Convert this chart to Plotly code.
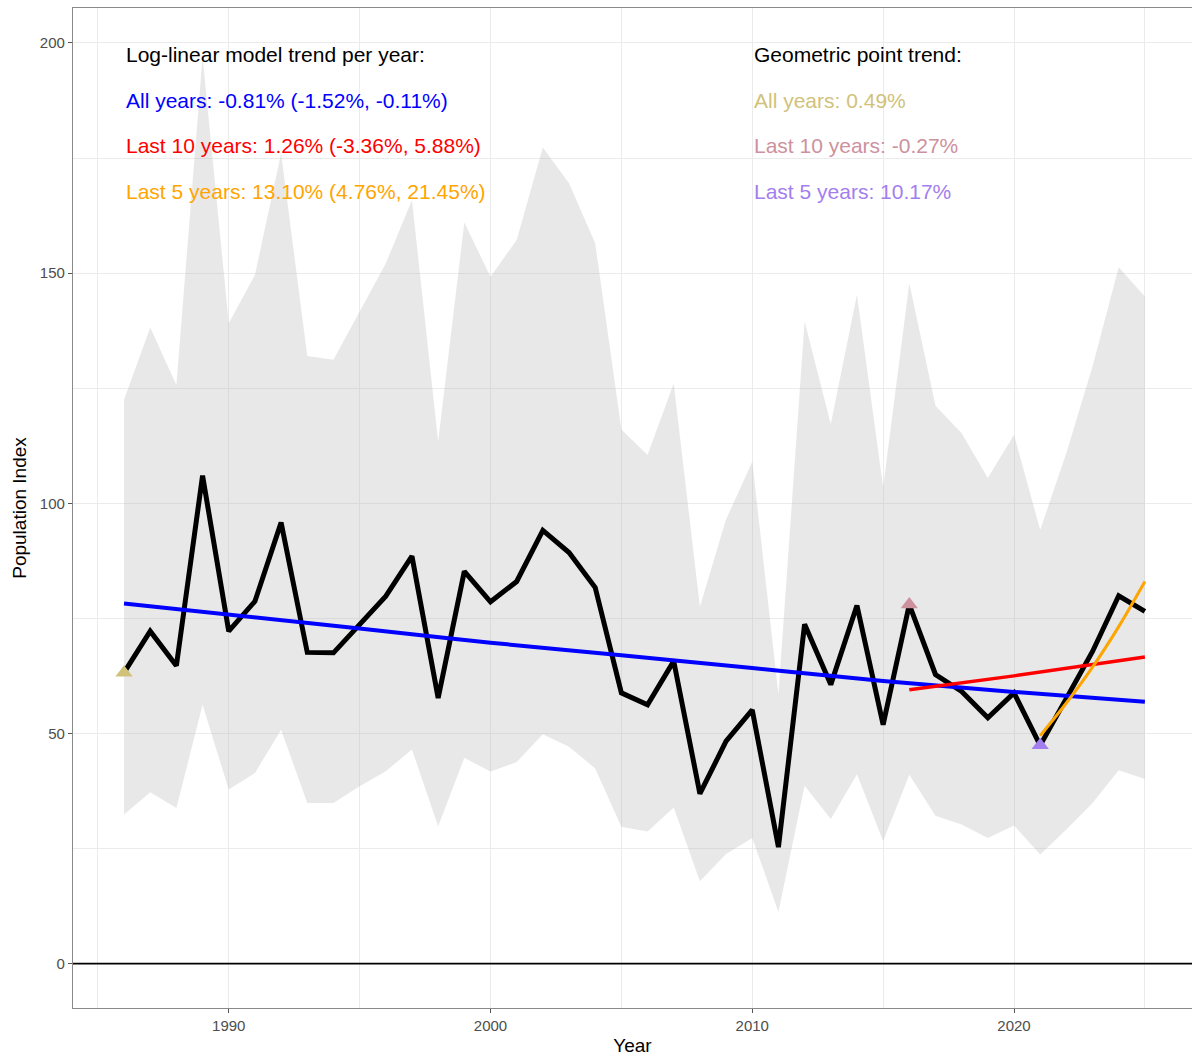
import plotly.graph_objects as go

years = list(range(1986, 2026))
index_vals = [63.2, 72.2, 64.7, 106.0, 72.2, 78.7, 95.8, 67.6, 67.5, 73.6,
              79.8, 88.5, 57.7, 85.2, 78.6, 83.0, 94.1, 89.3, 81.7, 58.8,
              56.2, 65.7, 36.9, 48.3, 55.1, 25.3, 73.7, 60.6, 77.8, 51.9,
              78.0, 62.8, 59.1, 53.4, 58.8, 47.4, 57.5, 67.8, 79.9, 76.5]
upper_vals = [122.5, 138.2, 125.7, 197.0, 139.1, 149.6, 176.0, 132.0, 131.2, 141.6,
              152.1, 165.9, 113.4, 161.0, 149.2, 157.2, 177.3, 169.5, 156.5, 116.0,
              110.5, 126.0, 77.5, 96.5, 109.0, 58.5, 139.5, 117.2, 145.3, 103.5,
              147.8, 121.2, 115.2, 105.5, 114.9, 94.2, 110.9, 129.7, 151.3, 144.9]
lower_vals = [32.4, 37.2, 33.8, 56.2, 37.8, 41.4, 50.8, 34.9, 34.9, 38.5,
              41.8, 46.5, 29.8, 44.7, 41.7, 43.8, 49.8, 47.1, 42.4, 29.7,
              28.7, 33.9, 17.9, 23.8, 27.3, 11.2, 38.6, 31.4, 41.1, 26.6,
              41.0, 32.1, 30.2, 27.3, 30.0, 23.7, 29.1, 34.9, 42.0, 40.1]

# Trend lines
trend_all_years = [1986, 1995, 2000, 2005, 2010, 2015, 2020, 2025]
trend_all_vals = [78.2, 72.8, 69.7, 67.0, 64.2, 61.4, 59.0, 56.9]
trend_10_years = [2016, 2020, 2025]
trend_10_vals = [59.5, 62.5, 66.6]
trend_5_years = [2021, 2022, 2023, 2024, 2025]
trend_5_vals = [49.5, 56.6, 64.4, 73.2, 83.0]

# Geometric point markers
geo_years = [1986, 2016, 2021]
geo_vals = [63.2, 78.0, 47.4]
geo_colors = ["#D1C27A", "#CD919E", "#A27EEE"]

left_texts = ["Log-linear model trend per year:",
              "All years: -0.81% (-1.52%, -0.11%)",
              "Last 10 years: 1.26% (-3.36%, 5.88%)",
              "Last 5 years: 13.10% (4.76%, 21.45%)"]
left_colors = ["black", "#0000FF", "#FF0000", "#FFA500"]
right_texts = ["Geometric point trend:",
               "All years: 0.49%",
               "Last 10 years: -0.27%",
               "Last 5 years: 10.17%"]
right_colors = ["black"] + geo_colors

x_ticks = [1990, 2000, 2010, 2020]
y_ticks = [0, 50, 100, 150, 200]

FONT = "Liberation Sans, Arial, Helvetica, sans-serif"

fig = go.Figure()
fig.add_trace(go.Scatter(x=years, y=lower_vals, mode="lines",
                         line=dict(width=0), showlegend=False, hoverinfo="skip"))
fig.add_trace(go.Scatter(x=years, y=upper_vals, mode="lines", fill="tonexty",
                         fillcolor="rgba(179,179,179,0.3)",
                         line=dict(width=0), showlegend=False, hoverinfo="skip"))
fig.add_trace(go.Scatter(x=years, y=index_vals, mode="lines",
                         line=dict(color="black", width=5), showlegend=False))
fig.add_trace(go.Scatter(x=trend_all_years, y=trend_all_vals, mode="lines",
                         line=dict(color="#0000FF", width=4, shape="spline"), showlegend=False))
fig.add_trace(go.Scatter(x=trend_10_years, y=trend_10_vals, mode="lines",
                         line=dict(color="#FF0000", width=3.5, shape="spline"), showlegend=False))
fig.add_trace(go.Scatter(x=trend_5_years, y=trend_5_vals, mode="lines",
                         line=dict(color="#FFA500", width=3, shape="spline"), showlegend=False))
fig.add_trace(go.Scatter(x=geo_years, y=geo_vals, mode="markers",
                         marker=dict(symbol="triangle-up", size=15, color=geo_colors),
                         showlegend=False))

fig.add_hline(y=0, line=dict(color="black", width=1.8))

text_y = [197.5, 187.6, 177.7, 167.8]
for t, c, y in zip(left_texts, left_colors, text_y):
    fig.add_annotation(x=1986, y=y, text=t, showarrow=False, xanchor="left",
                       yanchor="middle", font=dict(family=FONT, size=21, color=c))
for t, c, y in zip(right_texts, right_colors, text_y):
    fig.add_annotation(x=2010, y=y, text=t, showarrow=False, xanchor="left",
                       yanchor="middle", font=dict(family=FONT, size=21, color=c))

fig.update_layout(
    width=1192, height=1059,
    margin=dict(l=73, r=0, t=8, b=51),
    plot_bgcolor="white", paper_bgcolor="white",
    font=dict(family=FONT),
    xaxis=dict(range=[1984.05, 2026.8], tickvals=x_ticks, automargin=False,
               ticks="outside", ticklen=4, tickcolor="#555555", tickwidth=1,
               tickfont=dict(size=15, color="#4D4D4D"),
               showgrid=True, gridcolor="#EBEBEB", gridwidth=1.1,
               minor=dict(tickvals=[1985, 1995, 2005, 2015, 2025], showgrid=True,
                          gridcolor="#EBEBEB", gridwidth=0.6, ticks=""),
               showline=True, linecolor="#8A8A8A", linewidth=1.3, mirror=True,
               zeroline=False,
               title=dict(text="Year", font=dict(size=19, color="black"), standoff=5)),
    yaxis=dict(range=[-9.66, 207.6], tickvals=y_ticks, automargin=False,
               ticks="outside", ticklen=4, tickcolor="#555555", tickwidth=1,
               tickfont=dict(size=15, color="#4D4D4D"),
               showgrid=True, gridcolor="#EBEBEB", gridwidth=1.1,
               minor=dict(tickvals=[25, 75, 125, 175], showgrid=True,
                          gridcolor="#EBEBEB", gridwidth=0.6, ticks=""),
               showline=True, linecolor="#8A8A8A", linewidth=1.3,
               zeroline=False,
               title=dict(text="Population Index", font=dict(size=19, color="black"), standoff=8)),
)

fig.write_html("out.html", config={"displayModeBar": False},
               post_script="document.body.style.margin='0';document.body.style.overflow='hidden';")
